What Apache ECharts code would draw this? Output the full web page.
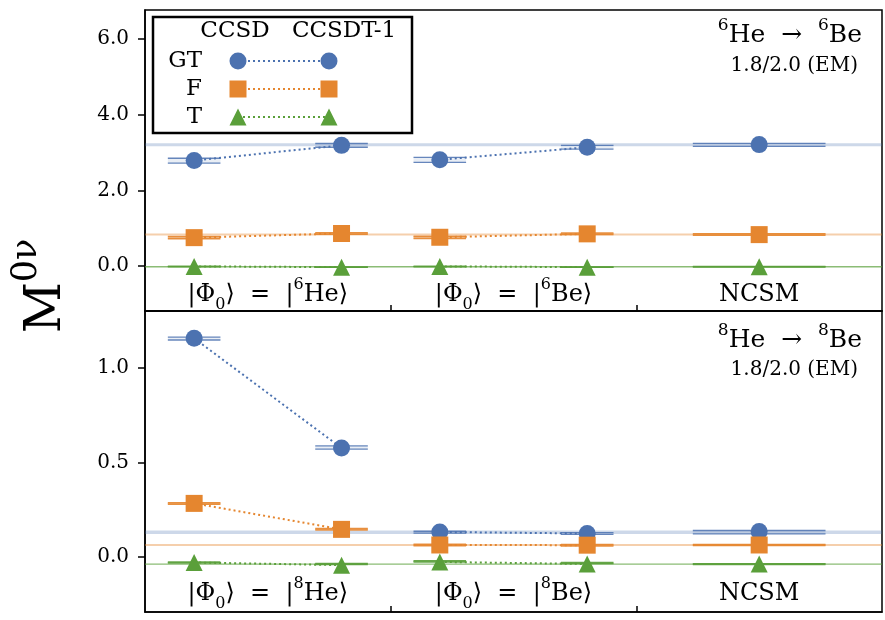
<!DOCTYPE html>
<html>
<head>
<meta charset="utf-8">
<script src="https://cdn.jsdelivr.net/npm/echarts@6/dist/echarts.min.js"></script>
<style>
  html, body { margin: 0; padding: 0; background: #fff; }
  #chart { width: 885px; height: 620px; }
</style>
</head>
<body>
<div id="chart"></div>
<script>
// ---- data -----------------------------------------------------------------
// x positions: |Phi0> = |parent> group (0..1), |Phi0> = |daughter> group (1..2), NCSM (2..3)
const xCC = [0.2, 0.8, 1.2, 1.8];   // CCSD, CCSDT-1, CCSD, CCSDT-1
const xNCSM = 2.5;
const groupCenters = [0.5, 1.5, 2.5];
const methods = ['CCSD', 'CCSDT-1'];
const operators = ['GT', 'F', 'T'];

// 6He -> 6Be  (values, band low, band high) for [CCSD, CCSDT-1, CCSD, CCSDT-1]
const he6_GT    = [2.79, 3.19, 2.81, 3.14];
const he6_GT_lo = [2.72, 3.14, 2.74, 3.09];
const he6_GT_hi = [2.85, 3.24, 2.87, 3.19];
const he6_F     = [0.75, 0.86, 0.76, 0.85];
const he6_F_lo  = [0.72, 0.84, 0.73, 0.83];
const he6_F_hi  = [0.78, 0.88, 0.79, 0.87];
const he6_T     = [-0.01, -0.03, -0.01, -0.03];
const he6_T_lo  = [-0.02, -0.035, -0.02, -0.035];
const he6_T_hi  = [-0.005, -0.025, -0.005, -0.025];
// NCSM: [value, band low, band high]
const he6_GT_ncsm = [3.21, 3.165, 3.245];
const he6_F_ncsm  = [0.83, 0.81, 0.85];
const he6_T_ncsm  = [-0.02, -0.025, -0.015];

// 8He -> 8Be
const he8_GT    = [1.159, 0.576, 0.130, 0.122];
const he8_GT_lo = [1.150, 0.570, 0.124, 0.117];
const he8_GT_hi = [1.165, 0.587, 0.134, 0.127];
const he8_F     = [0.282, 0.144, 0.061, 0.060];
const he8_F_lo  = [0.278, 0.140, 0.057, 0.056];
const he8_F_hi  = [0.286, 0.148, 0.065, 0.064];
const he8_T     = [-0.032, -0.046, -0.029, -0.040];
const he8_T_lo  = [-0.035, -0.043, -0.029, -0.038];
const he8_T_hi  = [-0.029, -0.037, -0.023, -0.032];
const he8_GT_ncsm = [0.132, 0.120, 0.138];
const he8_F_ncsm  = [0.061, 0.058, 0.064];
const he8_T_ncsm  = [-0.040, -0.043, -0.038];

// axis ticks
const topTicks = [0, 2, 4, 6];
const bottomTicks = [0, 0.5, 1.0];
const groupTicks = [1, 2];

// text
const panelTitles = [['6', '6'], ['8', '8']];
const interactionLabel = '1.8/2.0 (EM)';
const refLabels = [['6He', '6Be'], ['8He', '8Be']];

// ---- style ----------------------------------------------------------------
const FONT = "'DejaVu Serif', 'Liberation Serif', serif";
const COLORS = { GT: '#4c72b0', F: '#e5862f', T: '#5a9f3a' };
const SYMBOLS = { GT: 'circle', F: 'rect', T: 'triangle' };

function rgba(hex, a) {
  const n = parseInt(hex.slice(1), 16);
  return `rgba(${(n >> 16) & 255},${(n >> 8) & 255},${n & 255},${a})`;
}

const panelData = [
  {
    GT: [he6_GT, he6_GT_lo, he6_GT_hi, he6_GT_ncsm],
    F:  [he6_F,  he6_F_lo,  he6_F_hi,  he6_F_ncsm],
    T:  [he6_T,  he6_T_lo,  he6_T_hi,  he6_T_ncsm]
  },
  {
    GT: [he8_GT, he8_GT_lo, he8_GT_hi, he8_GT_ncsm],
    F:  [he8_F,  he8_F_lo,  he8_F_hi,  he8_F_ncsm],
    T:  [he8_T,  he8_T_lo,  he8_T_hi,  he8_T_ncsm]
  }
];

// band drawn as a light fill with coloured upper/lower edges
function bandRenderer(color, fillA, edgeA, edgeW, minH) {
  return function (params, api) {
    const x = api.value(0), hw = api.value(1), lo = api.value(2), hi = api.value(3);
    const p1 = api.coord([x - hw, hi]);
    const p2 = api.coord([x + hw, lo]);
    let yTop = p1[1], yBot = p2[1];
    if (yBot - yTop < minH) {
      const c = (yTop + yBot) / 2;
      yTop = c - minH / 2; yBot = c + minH / 2;
    }
    const children = [{
      type: 'rect',
      shape: { x: p1[0], y: yTop, width: p2[0] - p1[0], height: yBot - yTop },
      style: { fill: rgba(color, fillA) }
    }];
    if (edgeW > 0) {
      children.push({
        type: 'line',
        shape: { x1: p1[0], y1: yTop, x2: p2[0], y2: yTop },
        style: { stroke: rgba(color, edgeA), lineWidth: edgeW }
      }, {
        type: 'line',
        shape: { x1: p1[0], y1: yBot, x2: p2[0], y2: yBot },
        style: { stroke: rgba(color, edgeA), lineWidth: edgeW }
      });
    }
    return { type: 'group', children };
  };
}

const longStyle = {
  GT: [0.28, 0.0, 0, 3],
  F:  [0.40, 0.0, 0, 2],
  T:  [0.70, 0.0, 0, 1.4]
};
const pointStyle = {
  GT: [0.12, 0.85, 1.3, 0],
  F:  [0.55, 0.9, 1.5, 0],
  T:  [0.6, 0.9, 1.4, 0]
};

const series = [];
panelData.forEach((pd, p) => {
  operators.forEach((op) => {
    const [val, lo, hi, nc] = pd[op];
    const color = COLORS[op];
    // NCSM band across the full panel
    series.push({
      type: 'custom', xAxisIndex: p, yAxisIndex: p, z: 1, silent: true,
      renderItem: bandRenderer(color, ...longStyle[op]),
      encode: { x: 0, y: 2 },
      data: [[1.5, 1.5, nc[1], nc[2]]]
    });
    // bands under each point
    const bandData = xCC.map((x, i) => [x, 0.107, lo[i], hi[i]]);
    bandData.push([xNCSM, 0.27, nc[1], nc[2]]);
    series.push({
      type: 'custom', xAxisIndex: p, yAxisIndex: p, z: 2, silent: true,
      renderItem: bandRenderer(color, ...pointStyle[op]),
      encode: { x: 0, y: 2 },
      data: bandData
    });
  });
  operators.forEach((op, k) => {
    const [val] = pd[op];
    const color = COLORS[op];
    const common = {
      xAxisIndex: p, yAxisIndex: p, z: 3 + k, silent: true,
      symbol: SYMBOLS[op], symbolSize: 17,
      itemStyle: { color: color, opacity: 1 },
      lineStyle: { color: color, width: 2, type: [2, 3] }
    };
    series.push(Object.assign({ type: 'line', data: [[xCC[0], val[0]], [xCC[1], val[1]]] }, common));
    series.push(Object.assign({ type: 'line', data: [[xCC[2], val[2]], [xCC[3], val[3]]] }, common));
    series.push(Object.assign({ type: 'scatter', data: [[xNCSM, pd[op][3][0]]] }, common));
  });
});

const grids = [
  { left: 145, top: 10, width: 737, height: 301 },
  { left: 145, top: 311, width: 737, height: 301 }
];

function xAxisOf(i) {
  return {
    type: 'value', gridIndex: i, min: 0, max: 3,
    axisLine: { show: true, onZero: false, lineStyle: { color: '#000', width: 1.5 } },
    axisTick: { show: true, inside: true, length: 6, customValues: groupTicks,
                lineStyle: { color: '#000', width: 1.5 } },
    axisLabel: { show: false },
    splitLine: { show: false }
  };
}
function yAxisOf(i, min, max, ticks) {
  return {
    type: 'value', gridIndex: i, min: min, max: max,
    axisLine: { show: true, onZero: false, lineStyle: { color: '#000', width: 1.5 } },
    axisTick: { show: true, inside: false, length: 7, customValues: ticks,
                lineStyle: { color: '#000', width: 1.5 } },
    axisLabel: { show: true, customValues: ticks, margin: 16, color: '#000',
                 fontFamily: FONT, fontSize: 20, formatter: v => v.toFixed(1) },
    splitLine: { show: false }
  };
}

const chart = echarts.init(document.getElementById('chart'), null, { renderer: 'canvas' });
chart.setOption({
  animation: false,
  backgroundColor: '#fff',
  grid: grids.map(g => Object.assign({ show: true, borderColor: '#000', borderWidth: 1.5,
                                       backgroundColor: 'transparent', containLabel: false }, g)),
  xAxis: [xAxisOf(0), xAxisOf(1)],
  yAxis: [yAxisOf(0, -1.19, 6.77, topTicks), yAxisOf(1, -0.295, 1.304, bottomTicks)],
  series: series
});

// ---- annotations ------------------------------------------------------------
const richText = {
  n:   { fontFamily: FONT, fontSize: 24, lineHeight: 36, color: '#000' },
  sub: { fontFamily: FONT, fontSize: 16, verticalAlign: 'bottom', color: '#000' },
  sup: { fontFamily: FONT, fontSize: 16, verticalAlign: 'top', color: '#000' }
};
function stateLabel(nuc) {
  return '{n||Φ}{sub|0}{n|⟩  =  |}{sup|' + nuc.match(/\d+/)[0] + '}{n|' + nuc.replace(/\d+/, '') + '⟩}';
}

const graphics = [];
[0, 1].forEach(p => {
  const g = grids[p];
  const yLab = g.top + g.height - (p === 0 ? 16 : 18);
  const texts = [stateLabel(refLabels[p][0]), stateLabel(refLabels[p][1]), '{n|NCSM}'];
  groupCenters.forEach((c, i) => {
    const px = chart.convertToPixel({ xAxisIndex: p }, c);
    graphics.push({
      type: 'text', x: px, y: yLab, z: 50, silent: true,
      style: { text: texts[i], rich: richText, align: 'center', verticalAlign: 'middle' }
    });
  });
  const nuc = panelTitles[p];
  graphics.push({
    type: 'text', x: 862, y: g.top + (p === 0 ? 25 : 29), z: 50, silent: true,
    style: {
      text: '{s|' + nuc[0] + '}{t|He  →  }{s|' + nuc[1] + '}{t|Be}',
      rich: {
        t: { fontFamily: FONT, fontSize: 25, lineHeight: 36, color: '#000' },
        s: { fontFamily: FONT, fontSize: 17, verticalAlign: 'top', color: '#000' }
      },
      align: 'right', verticalAlign: 'middle'
    }
  });
  graphics.push({
    type: 'text', x: 858, y: g.top + (p === 0 ? 56 : 59), z: 50, silent: true,
    style: { text: interactionLabel, fontFamily: FONT, fontSize: 20, fill: '#000',
             align: 'right', verticalAlign: 'middle' }
  });
});

// y-axis title
graphics.push({
  type: 'text', x: 47, y: 286, rotation: Math.PI / 2, z: 50, silent: true,
  style: {
    text: '{m|M}{s|0ν}',
    rich: {
      m: { fontFamily: FONT, fontSize: 50, lineHeight: 76, color: '#000' },
      s: { fontFamily: FONT, fontSize: 35, verticalAlign: 'top', color: '#000' }
    },
    align: 'center', verticalAlign: 'middle'
  }
});

// legend box
const legX = [238, 329], legRows = [61, 89, 117];
const legend = [{
  type: 'rect', shape: { x: 153, y: 17, width: 259, height: 116 },
  style: { fill: '#fff', stroke: '#000', lineWidth: 2.5 }
}];
methods.forEach((m, i) => {
  legend.push({ type: 'text', x: i === 0 ? 235 : 344, y: 31,
    style: { text: m, fontFamily: FONT, fontSize: 23, fill: '#000', align: 'center', verticalAlign: 'middle' } });
});
operators.forEach((op, r) => {
  const y = legRows[r], col = COLORS[op];
  legend.push({ type: 'text', x: 202, y: y,
    style: { text: op, fontFamily: FONT, fontSize: 23, fill: '#000', align: 'right', verticalAlign: 'middle' } });
  legend.push({ type: 'line', shape: { x1: legX[0], y1: y, x2: legX[1], y2: y },
    style: { stroke: col, lineWidth: 2, lineDash: [2, 3] } });
  legX.forEach(x => {
    if (op === 'GT') legend.push({ type: 'circle', shape: { cx: x, cy: y, r: 8.5 }, style: { fill: col } });
    else if (op === 'F') legend.push({ type: 'rect', shape: { x: x - 8.5, y: y - 8.5, width: 17, height: 17 }, style: { fill: col } });
    else legend.push({ type: 'polygon', shape: { points: [[x, y - 8.5], [x - 8.5, y + 8.5], [x + 8.5, y + 8.5]] }, style: { fill: col } });
  });
});
graphics.push({ type: 'group', z: 60, silent: true, children: legend });

chart.setOption({ graphic: graphics });
</script>
</body>
</html>
